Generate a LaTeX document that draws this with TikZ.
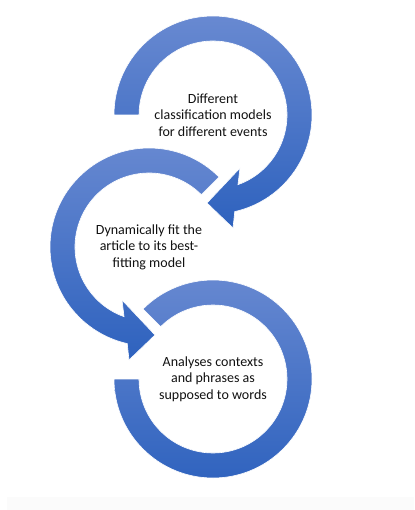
\documentclass[tikz,border=0pt]{standalone}
\usepackage{fontspec}
\setmainfont{Carlito}
\usetikzlibrary{calc}
\definecolor{ringtop}{HTML}{6889D1}
\definecolor{ringbot}{HTML}{2E62BE}
\definecolor{txt}{HTML}{111111}
\definecolor{band}{HTML}{FBFBFB}
\begin{document}
\begin{tikzpicture}[x=1pt,y=1pt,
  ring/.style={top color=ringtop, bottom color=ringbot, draw=white, line width=0.6pt},
  lbl/.style={align=center, text=txt, font=\fontsize{14}{16.5}\selectfont, inner sep=0pt}]
\useasboundingbox (0,0) rectangle (414,-510);
\fill[band] (7,-497) rectangle (414,-510);
\coordinate (C1) at (213,-115);
\coordinate (C2) at (149,-247);
\coordinate (C3) at (213,-379);
% third ring
\path[ring] ($(C3)+(135:99pt)$) arc[start angle=135, end angle=-180, radius=99pt]
  -- ($(C3)+(180:74pt)$) arc[start angle=-180, end angle=135, radius=74pt] -- cycle;
% middle ring with arrow
\path[ring] ($(C2)+(45:99pt)$) arc[start angle=45, end angle=257.3, radius=99pt]
  -- ($(C2)+(-20,-113)$) -- ($(C2)+(6,-88)$) -- ($(C2)+(-27,-53)$)
  -- ($(C2)+(250.3:74pt)$) arc[start angle=250.3, end angle=45, radius=74pt] -- cycle;
% top ring with arrow
\path[ring] ($(C1)+(180:99pt)$) arc[start angle=180, end angle=-77.3, radius=99pt]
  -- ($(C1)+(20,-113)$) -- ($(C1)+(-6,-88)$) -- ($(C1)+(27,-53)$)
  -- ($(C1)+(-70.3:74pt)$) arc[start angle=-70.3, end angle=180, radius=74pt] -- cycle;
\node[lbl] (t1) at (C1) {Different\\classification models\\for different events};
\node[lbl] (t2) at (C2) {Dynamically fit the\\article to its best-\\fitting model};
\node[lbl] (t3) at (C3) {Analyses contexts\\and phrases as\\supposed to words};
\end{tikzpicture}
\end{document}
